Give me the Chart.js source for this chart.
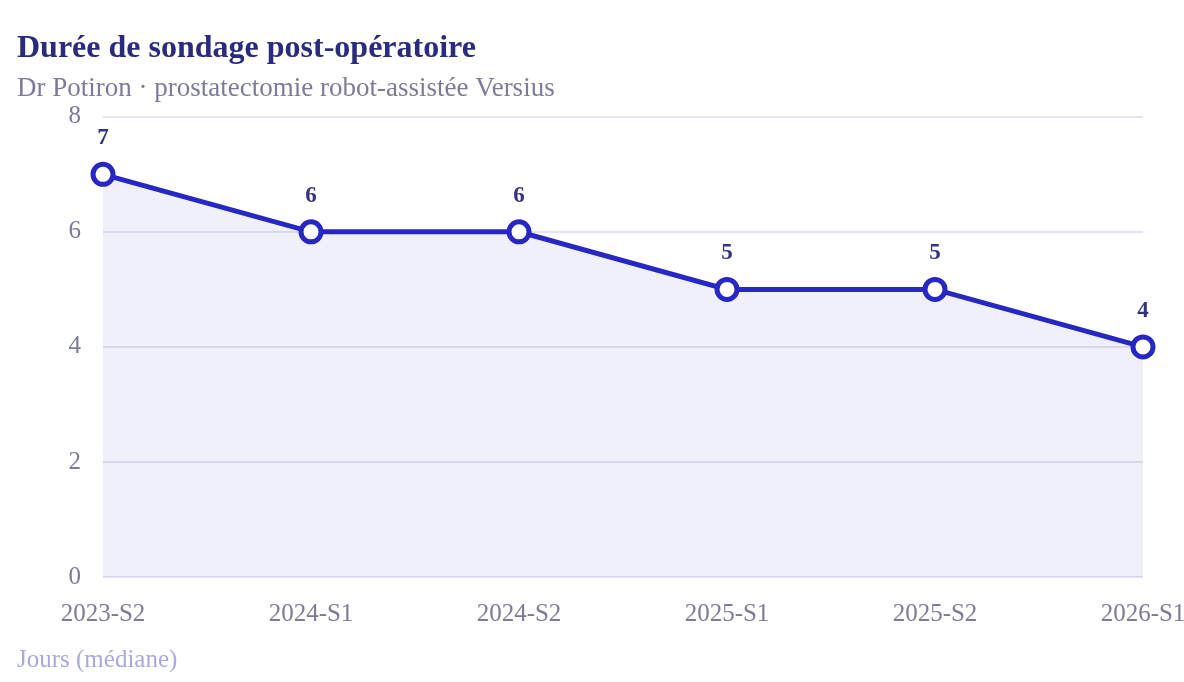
<!DOCTYPE html>
<html>
<head>
<meta charset="utf-8">
<script src="https://cdn.jsdelivr.net/npm/chart.js@4/dist/chart.umd.min.js"></script>
<style>
html,body{margin:0;padding:0;background:#fff}
#wrap{width:1184px;height:682px}
</style>
</head>
<body>
<div id="wrap"><canvas id="chart"></canvas></div>
<script>
// =============================
// DATA
// =============================
const periods = ["2023-S2","2024-S1","2024-S2","2025-S1","2025-S2","2026-S1"]
const medianDays = [7,6,6,5,5,4]
const yTicks = [0,2,4,6,8]

const titleText = "Durée de sondage post-opératoire"
const subtitleText = "Dr Potiron · prostatectomie robot-assistée Versius"
const noteText = "Jours (médiane)"

const serif = "'Liberation Serif', 'DejaVu Serif', serif"

// value labels above each point
const valueLabels = {
id:"valueLabels",
afterDatasetsDraw(chart){
let ctx = chart.ctx
let meta = chart.getDatasetMeta(0)
ctx.save()
ctx.font = "bold 23px " + serif
ctx.fillStyle = "#34347e"
ctx.textAlign = "center"
ctx.textBaseline = "middle"
meta.data.forEach((pt,i)=>{
ctx.fillText(String(medianDays[i]), pt.x, pt.y - 36)
})
ctx.restore()
}
}

// small note under the x axis
const footNote = {
id:"footNote",
afterDraw(chart){
let ctx = chart.ctx
ctx.save()
ctx.font = "25px " + serif
ctx.fillStyle = "#a9a9e0"
ctx.textAlign = "left"
ctx.textBaseline = "middle"
ctx.fillText(noteText, 17, chart.height - 22)
ctx.restore()
}
}

new Chart(document.getElementById("chart"),{
type:"line",
data:{
labels:periods,
datasets:[{
data:medianDays,
borderColor:"#2727c4",
backgroundColor:"rgba(60,60,200,0.08)",
fill:"origin",
tension:0,
borderWidth:5,
pointRadius:10,
pointHoverRadius:10,
pointBorderWidth:5,
pointBackgroundColor:"#ffffff",
pointBorderColor:"#2727c4"
}]
},
options:{
responsive:true,
maintainAspectRatio:false,
animation:false,
layout:{padding:{left:17,right:41,top:0,bottom:39}},
plugins:{
legend:{display:false},
tooltip:{enabled:false},
title:{
display:true,
text:titleText,
align:"start",
color:"#2b2b7e",
font:{family:serif,size:32,weight:"bold"},
padding:{top:30,bottom:0}
},
subtitle:{
display:true,
text:subtitleText,
align:"start",
color:"#7c7c98",
font:{family:serif,size:27},
padding:{top:4,bottom:12}
}
},
scales:{
x:{
offset:false,
grid:{display:false},
border:{display:false},
ticks:{
color:"#7c7c98",
font:{family:serif,size:25},
padding:14,
maxRotation:0,
autoSkip:false
},
afterFit(axis){
axis.paddingRight = 0
axis.paddingLeft = 0
}
},
y:{
min:0,
max:8,
afterBuildTicks(axis){
axis.ticks = yTicks.map(v=>({value:v}))
},
afterFit(axis){
axis.width = 86
},
grid:{color:"#e3e3f1",lineWidth:2,drawTicks:false},
border:{display:false},
ticks:{
color:"#7c7c98",
font:{family:serif,size:25},
padding:22
}
}
}
},
plugins:[valueLabels,footNote]
})
</script>
</body>
</html>
